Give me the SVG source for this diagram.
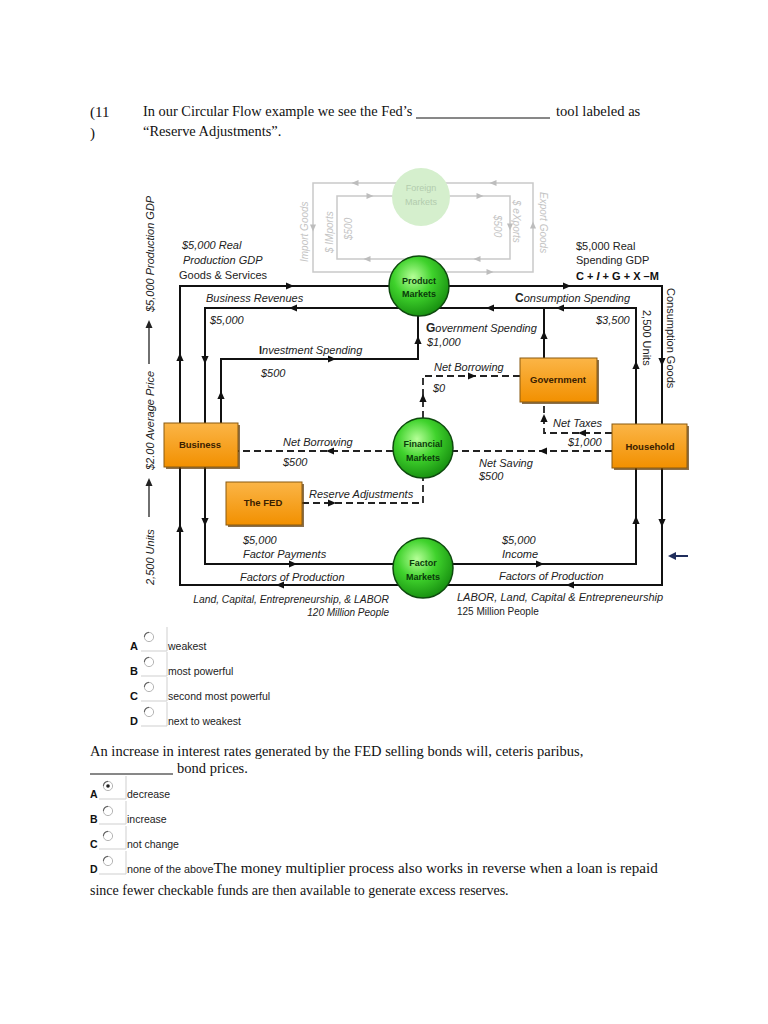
<svg xmlns="http://www.w3.org/2000/svg" xmlns:xlink="http://www.w3.org/1999/xlink" width="768" height="1024" viewBox="0 0 768 1024">
<style>
.it{font-family:"Liberation Sans",Arial,sans-serif;font-size:11px;font-style:italic;fill:#222}
.up{font-family:"Liberation Sans",Arial,sans-serif;font-size:11px;fill:#222}
.sf{font-family:"Liberation Serif","Times New Roman",serif;font-size:14px;fill:#111}
.opt{font-family:"Liberation Sans",Arial,sans-serif;font-size:10.5px;fill:#222}
.lt{font-family:"Liberation Sans",Arial,sans-serif;font-size:11px;font-weight:bold;fill:#111}
.ln{stroke:#111;stroke-width:2;fill:none}
.ds{stroke:#222;stroke-width:1.8;fill:none;stroke-dasharray:7 4}
.fg{stroke:#c9c9c9;stroke-width:1.5;fill:none}
.ft{font-family:"Liberation Sans",Arial,sans-serif;font-size:10px;font-style:italic;fill:#c4c4c4}
.bx{font-family:"Liberation Sans",Arial,sans-serif;font-size:9.5px;font-weight:bold;fill:#3a2000;text-anchor:middle}
.cl{font-family:"Liberation Sans",Arial,sans-serif;font-size:9px;font-weight:bold;fill:#0b3a0b;text-anchor:middle}
.frm{stroke:#cfcfcf;stroke-width:1;fill:none}
</style>
<defs>
<path id="ah" d="M4,0 L-4,-3.6 L-4,3.6 Z" fill="#111"/>
<path id="ahg" d="M3.5,0 L-3.5,-3 L-3.5,3 Z" fill="#bdbdbd"/>
<radialGradient id="gc" cx="40%" cy="35%" r="65%">
<stop offset="0" stop-color="#b6ff98"/>
<stop offset="0.5" stop-color="#3fd22c"/>
<stop offset="1" stop-color="#1a9412"/>
</radialGradient>
<linearGradient id="gb" x1="0" y1="0" x2="0" y2="1">
<stop offset="0" stop-color="#fbb547"/>
<stop offset="1" stop-color="#f29000"/>
</linearGradient>
<g id="radio">
<circle r="4.6" fill="#fff" stroke="#b5b5b5" stroke-width="1"/>
<path d="M-4.6,0 A4.6,4.6 0 0 1 0,-4.6" stroke="#666" stroke-width="1.1" fill="none"/>
</g>
</defs>

<!-- Question 1 -->
<g id="q1">
<text class="sf" x="90" y="117" style="font-size:15px">(11</text>
<text class="sf" x="90" y="138" style="font-size:15px">)</text>
<text class="sf" x="143" y="116" style="font-size:14.4px">In our Circular Flow example we see the Fed’s</text>
<line x1="416" y1="118" x2="550" y2="118" stroke="#111" stroke-width="1"/>
<text class="sf" x="556" y="116" style="font-size:14.6px">tool labeled as</text>
<text class="sf" x="143" y="136" style="font-size:14.4px">“Reserve Adjustments”.</text>
</g>

<!-- Foreign sector (faded) -->
<g id="foreign">
<path class="fg" d="M313,183 H533 V272 H313 Z"/>
<path class="fg" d="M337,196 H510 V259 H337 Z"/>
<use href="#ahg" transform="translate(355,183) rotate(180)"/>
<use href="#ahg" transform="translate(493,183) rotate(180)"/>
<use href="#ahg" transform="translate(370,196)"/>
<use href="#ahg" transform="translate(480,196)"/>
<use href="#ahg" transform="translate(313,228) rotate(90)"/>
<use href="#ahg" transform="translate(510,227) rotate(90)"/>
<use href="#ahg" transform="translate(533,225) rotate(-90)"/>
<use href="#ahg" transform="translate(367,259) rotate(180)"/>
<use href="#ahg" transform="translate(477,259) rotate(180)"/>
<use href="#ahg" transform="translate(490,272)"/>
<text class="ft" transform="translate(308,262) rotate(-90)">Import Goods</text>
<text class="ft" transform="translate(333,253) rotate(-90)">$ IMports</text>
<text class="ft" transform="translate(352,240) rotate(-90)">$500</text>
<text class="ft" transform="translate(540,192) rotate(90)">Export Goods</text>
<text class="ft" transform="translate(513,200) rotate(90)">$ eXports</text>
<text class="ft" transform="translate(494,215) rotate(90)">$500</text>
<circle cx="421" cy="197" r="29" fill="#d5efcd"/>
<text x="421" y="191" font-family="Liberation Sans, Arial, sans-serif" font-size="9" fill="#b3ccae" text-anchor="middle">Foreign</text>
<text x="421" y="205" font-family="Liberation Sans, Arial, sans-serif" font-size="9" fill="#b3ccae" text-anchor="middle">Markets</text>
</g>

<!-- Connectors -->
<g id="connectors">
<path class="ln" d="M180,286 H662 V585 H180 Z"/>
<path class="ln" d="M205,308 H636 V564 H205 Z"/>
<path class="ln" d="M221,423 V359 H418 V314"/>
<path class="ln" d="M544,358 V308"/>
<path class="ds" d="M423,418 V376 H520"/>
<path class="ds" d="M612,433 H544 V402"/>
<path class="ds" d="M612,451 H453"/>
<path class="ds" d="M393,451 H238"/>
<path class="ds" d="M302,503 H423 V478"/>
<use href="#ah" transform="translate(180,357) rotate(-90)"/>
<use href="#ah" transform="translate(290,286)"/>
<use href="#ah" transform="translate(567,286)"/>
<use href="#ah" transform="translate(662,362) rotate(90)"/>
<use href="#ah" transform="translate(662,523) rotate(90)"/>
<use href="#ah" transform="translate(570,585) rotate(180)"/>
<use href="#ah" transform="translate(280,585) rotate(180)"/>
<use href="#ah" transform="translate(180,528) rotate(-90)"/>
<use href="#ah" transform="translate(293,308) rotate(180)"/>
<use href="#ah" transform="translate(560,308) rotate(180)"/>
<use href="#ah" transform="translate(490,308) rotate(180)"/>
<use href="#ah" transform="translate(205,360) rotate(90)"/>
<use href="#ah" transform="translate(205,522) rotate(90)"/>
<use href="#ah" transform="translate(293,564)"/>
<use href="#ah" transform="translate(540,564)"/>
<use href="#ah" transform="translate(636,365) rotate(-90)"/>
<use href="#ah" transform="translate(636,520) rotate(-90)"/>
<use href="#ah" transform="translate(221,395) rotate(-90)"/>
<use href="#ah" transform="translate(332,359)"/>
<use href="#ah" transform="translate(418,340) rotate(-90)"/>
<use href="#ah" transform="translate(544,335) rotate(-90)"/>
<use href="#ah" transform="translate(423,398) rotate(-90)"/>
<use href="#ah" transform="translate(472,376)"/>
<use href="#ah" transform="translate(582,433) rotate(180)"/>
<use href="#ah" transform="translate(544,418) rotate(-90)"/>
<use href="#ah" transform="translate(543,451) rotate(180)"/>
<use href="#ah" transform="translate(330,451) rotate(180)"/>
<use href="#ah" transform="translate(332,503)"/>
</g>

<!-- Nodes -->
<g id="product-markets">
<circle cx="419" cy="286" r="30" fill="url(#gc)" stroke="#0e4a0e" stroke-width="1.5"/>
<text class="cl" x="419" y="284">Product</text>
<text class="cl" x="419" y="297">Markets</text>
</g>
<g id="financial-markets">
<circle cx="423" cy="448" r="30" fill="url(#gc)" stroke="#0e4a0e" stroke-width="1.5"/>
<text class="cl" x="423" y="447">Financial</text>
<text class="cl" x="423" y="461">Markets</text>
</g>
<g id="factor-markets">
<circle cx="423" cy="568" r="30" fill="url(#gc)" stroke="#0e4a0e" stroke-width="1.5"/>
<text class="cl" x="423" y="566">Factor</text>
<text class="cl" x="423" y="580">Markets</text>
</g>
<g id="business">
<rect x="166" y="425" width="74" height="44" fill="#5a3300" opacity="0.7"/>
<rect x="164" y="423" width="74" height="44" fill="url(#gb)" stroke="#8a5a10" stroke-width="1"/>
<text class="bx" x="200" y="448">Business</text>
</g>
<g id="the-fed">
<rect x="228" y="484" width="76" height="43" fill="#5a3300" opacity="0.7"/>
<rect x="226" y="482" width="76" height="43" fill="url(#gb)" stroke="#8a5a10" stroke-width="1"/>
<text class="bx" x="263" y="506">The FED</text>
</g>
<g id="government">
<rect x="522" y="360" width="77" height="44" fill="#5a3300" opacity="0.7"/>
<rect x="520" y="358" width="77" height="44" fill="url(#gb)" stroke="#8a5a10" stroke-width="1"/>
<text class="bx" x="558" y="383">Government</text>
</g>
<g id="household">
<rect x="614" y="426" width="75" height="44" fill="#5a3300" opacity="0.7"/>
<rect x="612" y="424" width="75" height="44" fill="url(#gb)" stroke="#8a5a10" stroke-width="1"/>
<text class="bx" x="650" y="450">Household</text>
</g>

<!-- Labels -->
<g id="labels">
<text class="it" x="182" y="249">$5,000 Real</text>
<text class="it" x="183" y="264">Production GDP</text>
<text class="up" x="179" y="279">Goods &amp; Services</text>
<text class="up" x="576" y="250">$5,000 Real</text>
<text class="up" x="576" y="264">Spending GDP</text>
<text class="lt" x="576" y="280">C + <tspan style="font-style:italic">I</tspan> + G + X –M</text>
<text class="it" x="206" y="302">Business Revenues</text>
<text class="it" x="210" y="324">$5,000</text>
<text class="it" x="259" y="354"><tspan style="font-weight:bold;font-style:normal">I</tspan>nvestment Spending</text>
<text class="it" x="261" y="377">$500</text>
<text class="it" x="515" y="302"><tspan style="font-weight:bold;font-style:normal;font-size:12px">C</tspan>onsumption Spending</text>
<text class="it" x="596" y="324">$3,500</text>
<text class="it" x="426" y="332"><tspan style="font-weight:bold;font-style:normal;font-size:12px">G</tspan>overnment Spending</text>
<text class="it" x="427" y="346">$1,000</text>
<text class="it" x="434" y="371">Net Borrowing</text>
<text class="it" x="433" y="392">$0</text>
<text class="it" x="553" y="427">Net Taxes</text>
<text class="it" x="568" y="446">$1,000</text>
<text class="it" x="479" y="467">Net Saving</text>
<text class="it" x="479" y="480">$500</text>
<text class="it" x="283" y="446">Net Borrowing</text>
<text class="it" x="283" y="466">$500</text>
<text class="it" x="309" y="498">Reserve Adjustments</text>
<text class="it" x="243" y="544">$5,000</text>
<text class="it" x="243" y="558">Factor Payments</text>
<text class="it" x="240" y="581">Factors of Production</text>
<text class="it" x="389" y="603" style="font-size:10.3px" text-anchor="end">Land, Capital, Entrepreneurship, &amp; LABOR</text>
<text class="it" x="389" y="616" style="font-size:10px" text-anchor="end">120 Million People</text>
<text class="it" x="502" y="544">$5,000</text>
<text class="it" x="502" y="558">Income</text>
<text class="it" x="499" y="580">Factors of Production</text>
<text class="it" x="457" y="601">LABOR, Land, Capital &amp; Entrepreneurship</text>
<text class="up" x="457" y="615" style="font-size:10px">125 Million People</text>
<text class="up" transform="translate(643,310) rotate(90)">2,500 Units</text>
<text class="up" transform="translate(667,288) rotate(90)">Consumption Goods</text>
<text class="it" transform="translate(154,585) rotate(-90)">2,500 Units</text>
<text class="it" transform="translate(154,470) rotate(-90)">$2.00 Average Price</text>
<text class="it" transform="translate(154,312) rotate(-90)">$5,000 Production GDP</text>
<line x1="149" y1="517" x2="149" y2="484" stroke="#222" stroke-width="1.3"/>
<path d="M149,478 L145.5,486 L152.5,486 Z" fill="#222"/>
<line x1="149" y1="364" x2="149" y2="326" stroke="#222" stroke-width="1.3"/>
<path d="M149,320 L145.5,328 L152.5,328 Z" fill="#222"/>
<line x1="688" y1="556" x2="674" y2="556" stroke="#1f2d5c" stroke-width="2"/>
<path d="M668,556 L676,552 L676,560 Z" fill="#1f2d5c"/>
</g>

<!-- Options block 1 -->
<g id="options1">
<text class="lt" x="130" y="650">A</text>
<use href="#radio" transform="translate(149,637)"/>
<path class="frm" d="M141,651 H167 V627"/>
<text class="opt" x="168" y="650">weakest</text>
<text class="lt" x="130" y="675">B</text>
<use href="#radio" transform="translate(149,662)"/>
<path class="frm" d="M141,676 H167 V652"/>
<text class="opt" x="168" y="675">most powerful</text>
<text class="lt" x="130" y="700">C</text>
<use href="#radio" transform="translate(149,687)"/>
<path class="frm" d="M141,701 H167 V677"/>
<text class="opt" x="168" y="700">second most powerful</text>
<text class="lt" x="130" y="725">D</text>
<use href="#radio" transform="translate(149,712)"/>
<path class="frm" d="M141,726 H167 V702"/>
<text class="opt" x="168" y="725">next to weakest</text>
</g>

<!-- Question 2 -->
<g id="q2">
<text class="sf" x="90" y="756" style="font-size:14.5px">An increase in interest rates generated by the FED selling bonds will, ceteris paribus,</text>
<line x1="90" y1="774" x2="173" y2="774" stroke="#111" stroke-width="1"/>
<text class="sf" x="177" y="773" style="font-size:14.5px">bond prices.</text>
<text class="lt" x="90" y="798" style="font-size:10.5px">A</text>
<use href="#radio" transform="translate(108,786)"/>
<circle cx="108" cy="786" r="1.8" fill="#222"/>
<path class="frm" d="M99,799 H126 V776"/>
<text class="opt" x="127" y="798">decrease</text>
<text class="lt" x="90" y="823" style="font-size:10.5px">B</text>
<use href="#radio" transform="translate(108,811)"/>
<path class="frm" d="M99,824 H126 V801"/>
<text class="opt" x="127" y="823">increase</text>
<text class="lt" x="90" y="848" style="font-size:10.5px">C</text>
<use href="#radio" transform="translate(108,836)"/>
<path class="frm" d="M99,849 H126 V826"/>
<text class="opt" x="127" y="848">not change</text>
<text class="lt" x="90" y="873" style="font-size:10.5px">D</text>
<use href="#radio" transform="translate(108,861)"/>
<path class="frm" d="M99,874 H126 V851"/>
<text x="127" y="873"><tspan class="opt" style="font-size:10.8px">none of the above</tspan><tspan class="sf" style="font-size:15.1px">The money multiplier process also works in reverse when a loan is repaid</tspan></text>
<text class="sf" x="90" y="895">since fewer checkable funds are then available to generate excess reserves.</text>
</g>
</svg>
